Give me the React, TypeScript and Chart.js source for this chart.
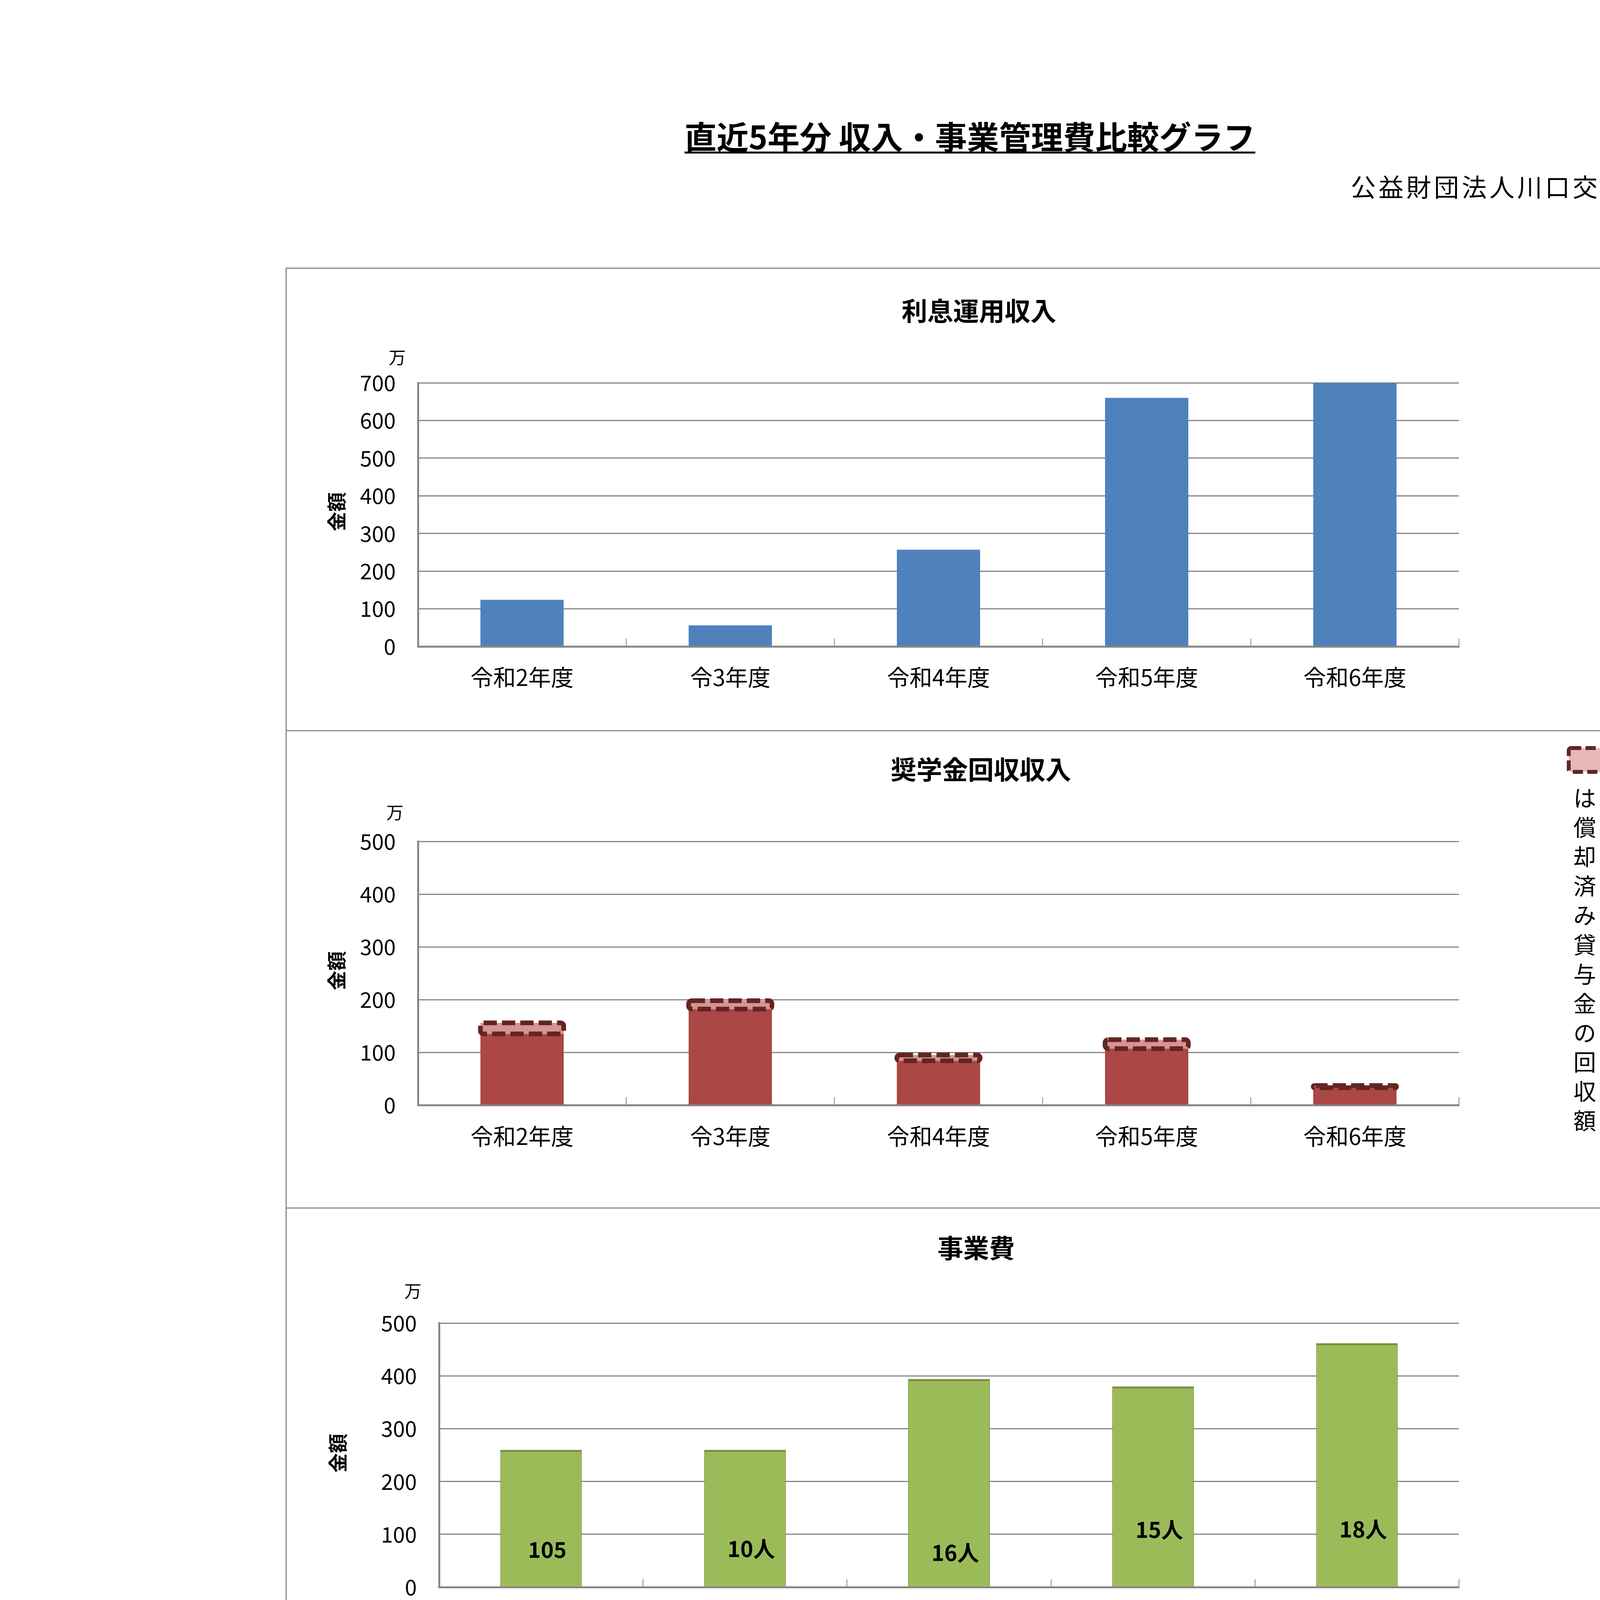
import React, { useEffect, useRef } from 'react';
import { Chart, registerables } from 'chart.js';
import { drawPoint } from 'chart.js/helpers';

Chart.register(...registerables);

// ---------------- data ----------------
const categories = ['令和2年度', '令3年度', '令和4年度', '令和5年度', '令和6年度'];
const interestIncome = [124, 56, 257, 660, 758];
const scholarshipRecovery = [135, 182, 84, 107, 33];
const writtenOffRecovery = [21, 16, 11, 17, 4];
const projectCost = [260, 260, 394, 380, 462];
const projectPeople = ['105', '10人', '16人', '15人', '18人'];
const adminCost = [268, 275, 280, 274, 276];

const pageTitle = '直近5年分 収入・事業管理費比較グラフ';
const orgName = '公益財団法人川口交通遺児育英会';
const panelTitles = ['利息運用収入', '奨学金回収収入', '事業費', '管理費'];
const lineSeriesNames = ['利息運用収入', '奨学金回収収入', '事　業　費', '管　理　費'];
const unitLabel = '万';
const axisTitle = '金額';
const noteText = 'は償却済み貸与金の回収額';
const yMaxes = [700, 500, 500, 500, 800];

// ---------------- layout / style ----------------
const FONT = '"Noto Sans CJK JP", "Noto Sans", sans-serif';
const GRID = '#878787';
const CANVAS_LEFT = 733;
const CANVAS_W = 3489;

const PANELS = [
  { top: 686, bottom: 1870, area: [1070, 980, 3735, 1655], title: [2506, 796], unit: [1017, 915], axis: [862, 1310], xPad: 64 },
  { top: 1870, bottom: 3092, area: [1070, 2154, 3735, 2829], title: [2511, 1970], unit: [1011, 2080], axis: [862, 2485], xPad: 65 },
  { top: 3092, bottom: 4255, area: [1124, 3387, 3735, 4063], title: [2499, 3195], unit: [1057, 3305], axis: [865, 3720], xPad: 69 },
  { top: 4255, bottom: 5460, area: [1124, 4548, 3735, 5235], title: [2499, 4362], unit: [1057, 4467], axis: [862, 4880], xPad: 62 },
  { top: 5460, bottom: 6712, area: [1124, 5660, 3457, 6554], title: null, unit: [1060, 5569], axis: [862, 5990], xPad: 63 },
];

Chart.defaults.font.family = FONT;

// ---------------- plugins ----------------
const decorPlugin = {
  id: 'decor',
  afterDraw(chart: any, _a: any, o: any) {
    if (!o || !o.unitPos) return;
    const ctx = chart.ctx;
    const ox = o.offsetX, oy = o.offsetY;
    ctx.save();
    ctx.fillStyle = '#000';
    ctx.textAlign = 'center';
    ctx.textBaseline = 'middle';
    if (o.title) {
      ctx.font = `bold 66px ${FONT}`;
      ctx.fillText(o.title, o.titlePos[0] - ox, o.titlePos[1] - oy);
    }
    ctx.font = `44px ${FONT}`;
    ctx.fillText(unitLabel, o.unitPos[0] - ox, o.unitPos[1] - oy);
    ctx.save();
    ctx.translate(o.axisPos[0] - ox, o.axisPos[1] - oy);
    ctx.rotate(-Math.PI / 2);
    ctx.font = `bold 50px ${FONT}`;
    ctx.fillText(axisTitle, 0, 0);
    ctx.restore();

    if (o.note) {
      const n = o.note;
      const x1 = n.box[0] - ox, y1 = n.box[1] - oy, x2 = n.box[2] - ox, y2 = n.box[3] - oy;
      ctx.beginPath();
      ctx.roundRect(x1, y1, x2 - x1, y2 - y1, 6);
      ctx.fillStyle = '#E6B9B8';
      ctx.fill();
      ctx.strokeStyle = '#632523';
      ctx.lineWidth = 10;
      ctx.setLineDash([26, 11]);
      ctx.stroke();
      ctx.setLineDash([]);
      ctx.fillStyle = '#000';
      ctx.font = `58px ${FONT}`;
      Array.from(noteText).forEach((ch, i) => {
        ctx.fillText(ch, n.cx - ox, n.y0 - oy + i * n.step);
      });
    }
    ctx.restore();
  },
};

const dashedPlugin = {
  id: 'dashedSegment',
  afterDatasetsDraw(chart: any, _a: any, o: any) {
    if (!o || o.datasetIndex == null) return;
    const meta = chart.getDatasetMeta(o.datasetIndex);
    const ctx = chart.ctx;
    ctx.save();
    ctx.strokeStyle = o.color;
    ctx.lineWidth = o.width;
    ctx.setLineDash(o.dash);
    meta.data.forEach((el: any) => {
      const { x, y, base, width } = el.getProps(['x', 'y', 'base', 'width'], true);
      const t = Math.min(y, base);
      const h = Math.abs(base - y);
      ctx.beginPath();
      ctx.roundRect(x - width / 2, t, width, h, o.radius);
      ctx.stroke();
    });
    ctx.restore();
  },
};

const barLabelPlugin = {
  id: 'barLabels',
  afterDatasetsDraw(chart: any, _a: any, o: any) {
    if (!o || !o.at) return;
    const meta = chart.getDatasetMeta(0);
    const ys = chart.scales.y;
    const ctx = chart.ctx;
    ctx.save();
    ctx.fillStyle = '#000';
    ctx.textAlign = 'center';
    ctx.textBaseline = 'middle';
    ctx.font = `bold 56px ${FONT}`;
    meta.data.forEach((el: any, i: number) => {
      ctx.fillText(projectPeople[i], el.x + o.dx, ys.getPixelForValue(o.at[i]));
    });
    ctx.restore();
  },
};

const seriesLegendPlugin = {
  id: 'seriesLegend',
  afterDraw(chart: any, _a: any, o: any) {
    if (!o || o.y0 == null) return;
    const ctx = chart.ctx;
    const ox = o.offsetX, oy = o.offsetY;
    ctx.save();
    chart.data.datasets.forEach((ds: any, i: number) => {
      const y = o.y0 - oy + i * o.step;
      ctx.strokeStyle = ds.borderColor;
      ctx.lineWidth = ds.borderWidth;
      ctx.beginPath();
      ctx.moveTo(o.x1 - ox, y);
      ctx.lineTo(o.x2 - ox, y);
      ctx.stroke();
      ctx.fillStyle = ds.pointBackgroundColor;
      ctx.strokeStyle = ds.pointBorderColor;
      ctx.lineWidth = ds.pointBorderWidth;
      drawPoint(ctx, { pointStyle: ds.pointStyle, radius: ds.pointRadius, rotation: 0, borderWidth: ds.pointBorderWidth } as any, o.xm - ox, y);
      ctx.fillStyle = '#000';
      ctx.textAlign = 'left';
      ctx.textBaseline = 'middle';
      ctx.font = `58px ${FONT}`;
      ctx.fillText(ds.label, o.xt - ox, y);
    });
    ctx.restore();
  },
};

// ---------------- config ----------------
function buildScales(i: number, stacked: boolean) {
  const p = PANELS[i];
  const H = p.bottom - p.top;
  const [aL, , , aB] = p.area;
  return {
    x: {
      stacked,
      offset: true,
      grid: {
        display: true,
        drawOnChartArea: false,
        drawTicks: true,
        tickLength: -20,
        offset: true,
        color: GRID,
        lineWidth: 2,
      },
      border: { display: true, color: GRID, width: 5 },
      ticks: { font: { family: FONT, size: 58 }, color: '#000', padding: p.xPad, maxRotation: 0, autoSkip: false },
      afterFit: (s: any) => {
        s.height = H - (aB - p.top);
      },
    },
    y: {
      stacked,
      min: 0,
      max: yMaxes[i],
      ticks: { stepSize: 100, font: { family: FONT, size: 55 }, color: '#000', padding: 57 },
      grid: { color: GRID, lineWidth: 3, drawTicks: false },
      border: { display: true, color: GRID, width: 5 },
      afterFit: (s: any) => {
        s.width = aL - CANVAS_LEFT;
      },
    },
  };
}

function buildConfig(i: number): any {
  const p = PANELS[i];
  const [, aT, aR] = p.area;
  const decor = {
    offsetX: CANVAS_LEFT,
    offsetY: p.top,
    title: i < 4 ? panelTitles[i] : null,
    titlePos: p.title,
    unitPos: p.unit,
    axisPos: p.axis,
    note:
      i === 1
        ? { box: [4016, 1915, 4102, 1976], cx: 4057, y0: 2043, step: 75.1 }
        : null,
  };
  const plugins: any = {
    legend: { display: false },
    tooltip: { enabled: false },
    title: { display: false },
    decor,
  };
  let type = 'bar';
  let datasets: any[] = [];
  const common = { barPercentage: 0.4, categoryPercentage: 1.0 };
  if (i === 0) {
    datasets = [{ data: interestIncome, backgroundColor: '#4F81BD', borderWidth: 0, clip: 0, ...common }];
  } else if (i === 1) {
    datasets = [
      { data: scholarshipRecovery, backgroundColor: '#AB4744', borderWidth: 0, stack: 's', ...common },
      { data: writtenOffRecovery, backgroundColor: '#D69493', borderWidth: 0, stack: 's', ...common },
    ];
    plugins.dashedSegment = { datasetIndex: 1, color: '#632523', width: 12, dash: [34, 13], radius: 8 };
  } else if (i === 2) {
    datasets = [
      {
        data: projectCost,
        backgroundColor: '#9BBB59',
        borderColor: '#77933C',
        borderWidth: { top: 6, left: 2, right: 2, bottom: 0 },
        ...common,
      },
    ];
    plugins.barLabels = { at: [71, 73, 65, 109, 110], dx: 16 };
  } else if (i === 3) {
    datasets = [
      {
        data: adminCost,
        backgroundColor: '#8064A2',
        borderColor: ['#77933C', '#77933C', '#5C4776', '#77933C', '#77933C'],
        borderWidth: { top: 5, left: 2, right: 2, bottom: 0 },
        ...common,
      },
    ];
  } else {
    type = 'line';
    const mk = (label: string, data: number[], color: string, style: string, r: number, bw: number, order: number) => ({
      label,
      data,
      borderColor: color,
      backgroundColor: color,
      borderWidth: 13,
      tension: 0,
      pointStyle: style,
      pointRadius: r,
      pointBackgroundColor: color,
      pointBorderColor: color,
      pointBorderWidth: bw,
      order,
    });
    datasets = [
      mk(lineSeriesNames[0], interestIncome, '#4A7EBB', 'rectRot', 24, 2, 4),
      mk(lineSeriesNames[1], scholarshipRecovery, '#BE4B48', 'rect', 31, 2, 3),
      mk(lineSeriesNames[2], projectCost, '#7A9A3C', 'triangle', 26, 2, 2),
      mk(lineSeriesNames[3], adminCost, '#604A7B', 'star', 26, 3, 1),
    ];
    plugins.seriesLegend = {
      offsetX: CANVAS_LEFT,
      offsetY: p.top,
      x1: 3549,
      x2: 3668,
      xm: 3608,
      xt: 3677,
      y0: 5710,
      step: 214.3,
    };
  }
  return {
    type,
    data: { labels: categories, datasets },
    options: {
      responsive: false,
      maintainAspectRatio: false,
      animation: false,
      devicePixelRatio: 1,
      events: [],
      layout: { padding: { left: 0, top: aT - p.top, right: CANVAS_LEFT + CANVAS_W - aR, bottom: 0 } },
      scales: buildScales(i, i === 1),
      plugins,
    },
    plugins: [decorPlugin, dashedPlugin, barLabelPlugin, seriesLegendPlugin],
  };
}

function ChartCanvas({ index }: { index: number }) {
  const ref = useRef<HTMLCanvasElement | null>(null);
  const p = PANELS[index];
  const h = p.bottom - p.top;
  useEffect(() => {
    if (!ref.current) return;
    const chart = new Chart(ref.current, buildConfig(index));
    return () => chart.destroy();
  }, [index]);
  return (
    <canvas
      ref={ref}
      width={CANVAS_W}
      height={h}
      style={{ position: 'absolute', left: CANVAS_LEFT, top: p.top, width: CANVAS_W, height: h }}
    />
  );
}

export default function App() {
  const boxL = 731;
  const boxR = 4224;
  const boxT = 685;
  const boxB = 6714;
  return (
    <div
      style={{
        position: 'absolute',
        left: 0,
        top: 0,
        width: 4958,
        height: 7017,
        background: '#fff',
        overflow: 'hidden',
        fontFamily: FONT,
      }}
    >
      <div
        style={{
          position: 'absolute',
          left: 2483 - 1500,
          width: 3000,
          top: 306,
          height: 82,
          lineHeight: '82px',
          fontSize: 82,
          fontWeight: 'bold',
          textAlign: 'center',
          color: '#000',
        }}
      >
        <span style={{ textDecoration: 'underline', textUnderlineOffset: '6px', textDecorationThickness: '5px' }}>
          {pageTitle}
        </span>
      </div>
      <div
        style={{
          position: 'absolute',
          left: 4523 - 1500,
          width: 1500,
          top: 475 - 32,
          height: 64,
          lineHeight: '64px',
          fontSize: 64,
          letterSpacing: '7px',
          textAlign: 'right',
          color: '#000',
        }}
      >
        {orgName}
      </div>
      {PANELS.map((_, i) => (
        <ChartCanvas key={i} index={i} />
      ))}
      <div
        style={{
          position: 'absolute',
          left: boxL,
          top: boxT,
          width: boxR - boxL,
          height: boxB - boxT,
          border: '3px solid #8a8a8a',
          boxSizing: 'border-box',
        }}
      />
      {PANELS.slice(1).map((p, i) => (
        <div
          key={i}
          style={{
            position: 'absolute',
            left: boxL,
            top: p.top - 1,
            width: boxR - boxL,
            height: 3,
            background: '#8a8a8a',
          }}
        />
      ))}
    </div>
  );
}
